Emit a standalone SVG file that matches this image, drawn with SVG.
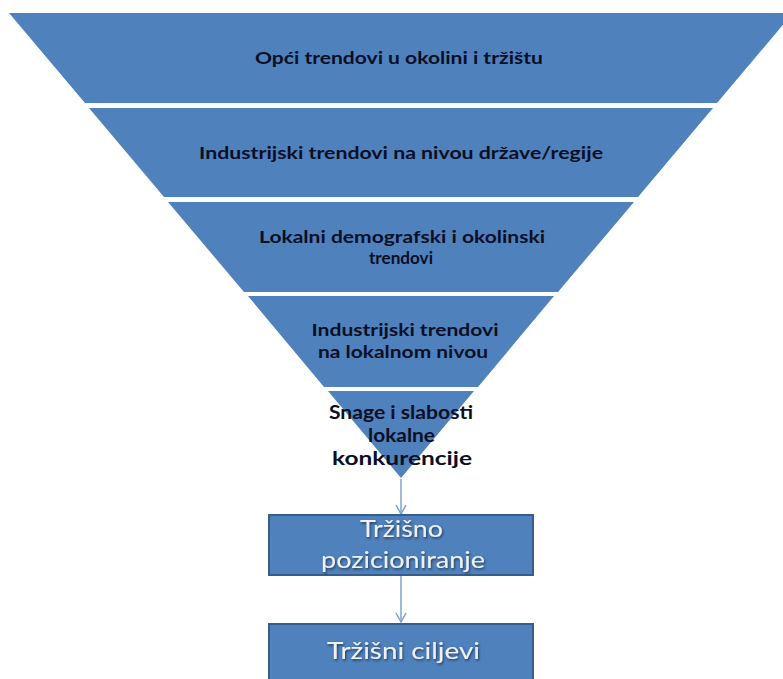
<svg xmlns="http://www.w3.org/2000/svg" width="783" height="679" viewBox="0 0 783 679">
<defs>
<style>
.band{fill:#4f81bd;}
.bt{font-family:Lato,"Liberation Sans",sans-serif;font-weight:bold;font-size:17.5px;fill:#0b0f25;text-anchor:middle;}
.bt5{font-size:19px;}
.box{fill:#4f81bd;stroke:#385d8a;stroke-width:2;}
.xt{font-family:Lato,"Open Sans","Liberation Sans",sans-serif;font-size:23px;fill:#eef1f5;text-anchor:middle;filter:url(#sh);}
.conn{stroke:#7fa0cf;stroke-width:1.5;fill:none;}
</style>
<filter id="sh" x="-10%" y="-30%" width="120%" height="160%">
<feDropShadow dx="1" dy="1.5" stdDeviation="0.8" flood-color="#1a2a40" flood-opacity="0.8"/>
</filter>
<marker id="arr" markerWidth="12" markerHeight="12" refX="10" refY="6" orient="auto" markerUnits="userSpaceOnUse">
<path d="M1,1 L10,6 L1,11" fill="none" stroke="#7fa0cf" stroke-width="1.5"/>
</marker>
</defs>
<rect width="783" height="679" fill="#ffffff"/>
<g id="band1">
<polygon class="band" points="9,13 793,13 717,103 85,103"/>
<text class="bt" x="399" y="64" textLength="288" lengthAdjust="spacingAndGlyphs">Opći trendovi u okolini i tržištu</text>
</g>
<g id="band2">
<polygon class="band" points="89,108 713,108 638,197 164,197"/>
<text class="bt" x="401" y="159" textLength="404" lengthAdjust="spacingAndGlyphs">Industrijski trendovi na nivou države/regije</text>
</g>
<g id="band3">
<polygon class="band" points="168,202 634,202 558,292 244,292"/>
<text class="bt" x="402" y="243" textLength="286" lengthAdjust="spacingAndGlyphs">Lokalni demografski i okolinski</text>
<text class="bt" x="401" y="264" textLength="64" lengthAdjust="spacingAndGlyphs">trendovi</text>
</g>
<g id="band4">
<polygon class="band" points="248,296 554,296 478,387 324,387"/>
<text class="bt" x="405" y="336" textLength="187" lengthAdjust="spacingAndGlyphs">Industrijski trendovi</text>
<text class="bt" x="403" y="358" textLength="170" lengthAdjust="spacingAndGlyphs">na lokalnom nivou</text>
</g>
<g id="band5">
<polygon class="band" points="328,391 474,391 401,478"/>
<text class="bt bt5" x="401" y="419" textLength="144" lengthAdjust="spacingAndGlyphs">Snage i slabosti</text>
<text class="bt bt5" x="401.5" y="442" textLength="67" lengthAdjust="spacingAndGlyphs">lokalne</text>
<text class="bt bt5" x="402" y="465" textLength="140" lengthAdjust="spacingAndGlyphs">konkurencije</text>
</g>
<g id="connectors">
<line class="conn" x1="401" y1="479" x2="401" y2="514" marker-end="url(#arr)"/>
<line class="conn" x1="401" y1="576" x2="401" y2="622" marker-end="url(#arr)"/>
</g>
<g id="pozicioniranje">
<rect class="box" x="269" y="515" width="264" height="60"/>
<text class="xt" x="401.5" y="537" textLength="83" lengthAdjust="spacingAndGlyphs">Tržišno</text>
<text class="xt" x="403" y="568" textLength="164" lengthAdjust="spacingAndGlyphs">pozicioniranje</text>
</g>
<g id="ciljevi">
<rect class="box" x="269" y="624" width="264" height="60"/>
<text class="xt" x="403.5" y="659" textLength="153" lengthAdjust="spacingAndGlyphs">Tržišni ciljevi</text>
</g>
</svg>
